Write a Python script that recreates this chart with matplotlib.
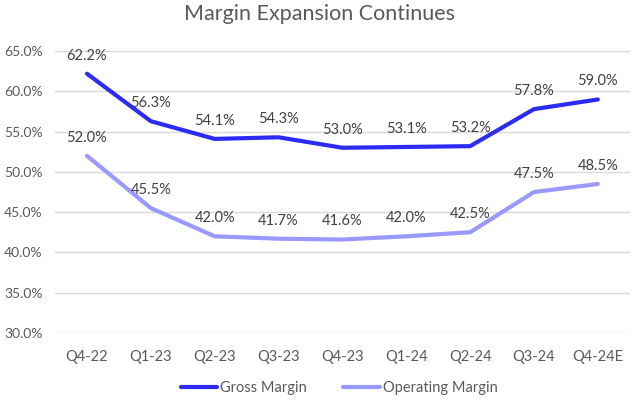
import matplotlib
matplotlib.use("Agg")
import matplotlib.pyplot as plt
from matplotlib.ticker import PercentFormatter

quarters = ["Q4-22", "Q1-23", "Q2-23", "Q3-23", "Q4-23", "Q1-24", "Q2-24", "Q3-24", "Q4-24E"]
gross_margin = [62.2, 56.3, 54.1, 54.3, 53.0, 53.1, 53.2, 57.8, 59.0]
operating_margin = [52.0, 45.5, 42.0, 41.7, 41.6, 42.0, 42.5, 47.5, 48.5]

plt.rcParams["font.family"] = ["Lato", "DejaVu Sans"]
text_color = "#595959"

fig = plt.figure(figsize=(6.4, 4.03), dpi=100)
ax = fig.add_axes([0.086, 0.174, 0.898, 0.699])

x = range(len(quarters))
ax.plot(x, gross_margin, color="#2b2bf5", lw=3, label="Gross Margin", solid_capstyle="round")
ax.plot(x, operating_margin, color="#9999ff", lw=3, label="Operating Margin", solid_capstyle="round")

for i, (g, o) in enumerate(zip(gross_margin, operating_margin)):
    ax.annotate(f"{g:.1f}%", (i, g), xytext=(0, 8), textcoords="offset points",
                ha="center", va="bottom", fontsize=10.5, color="#404040")
    ax.annotate(f"{o:.1f}%", (i, o), xytext=(0, 8), textcoords="offset points",
                ha="center", va="bottom", fontsize=10.5, color="#404040")

ax.set_xlim(-0.5, len(quarters) - 0.5)
ax.set_ylim(30, 65)
ax.set_yticks(range(30, 66, 5))
ax.yaxis.set_major_formatter(PercentFormatter(decimals=1))
ax.set_xticks(list(x))
ax.set_xticklabels(quarters)
ax.tick_params(axis="both", length=0, labelsize=10.5, colors=text_color)
ax.tick_params(axis="x", pad=12)
ax.tick_params(axis="y", labelsize=10, pad=9)
ax.grid(axis="y", color="#d9d9d9", lw=1)
ax.set_axisbelow(True)
for s in ax.spines.values():
    s.set_visible(False)

fig.suptitle("Margin Expansion Continues", y=0.99, fontsize=15.5, color=text_color)
fig.legend(loc="lower center", bbox_to_anchor=(0.53, -0.012), ncol=2, frameon=False,
           fontsize=10.5, labelcolor=text_color, handlelength=2.5, handletextpad=0.2,
           columnspacing=2.5)

fig.savefig("out.png", dpi=100)
